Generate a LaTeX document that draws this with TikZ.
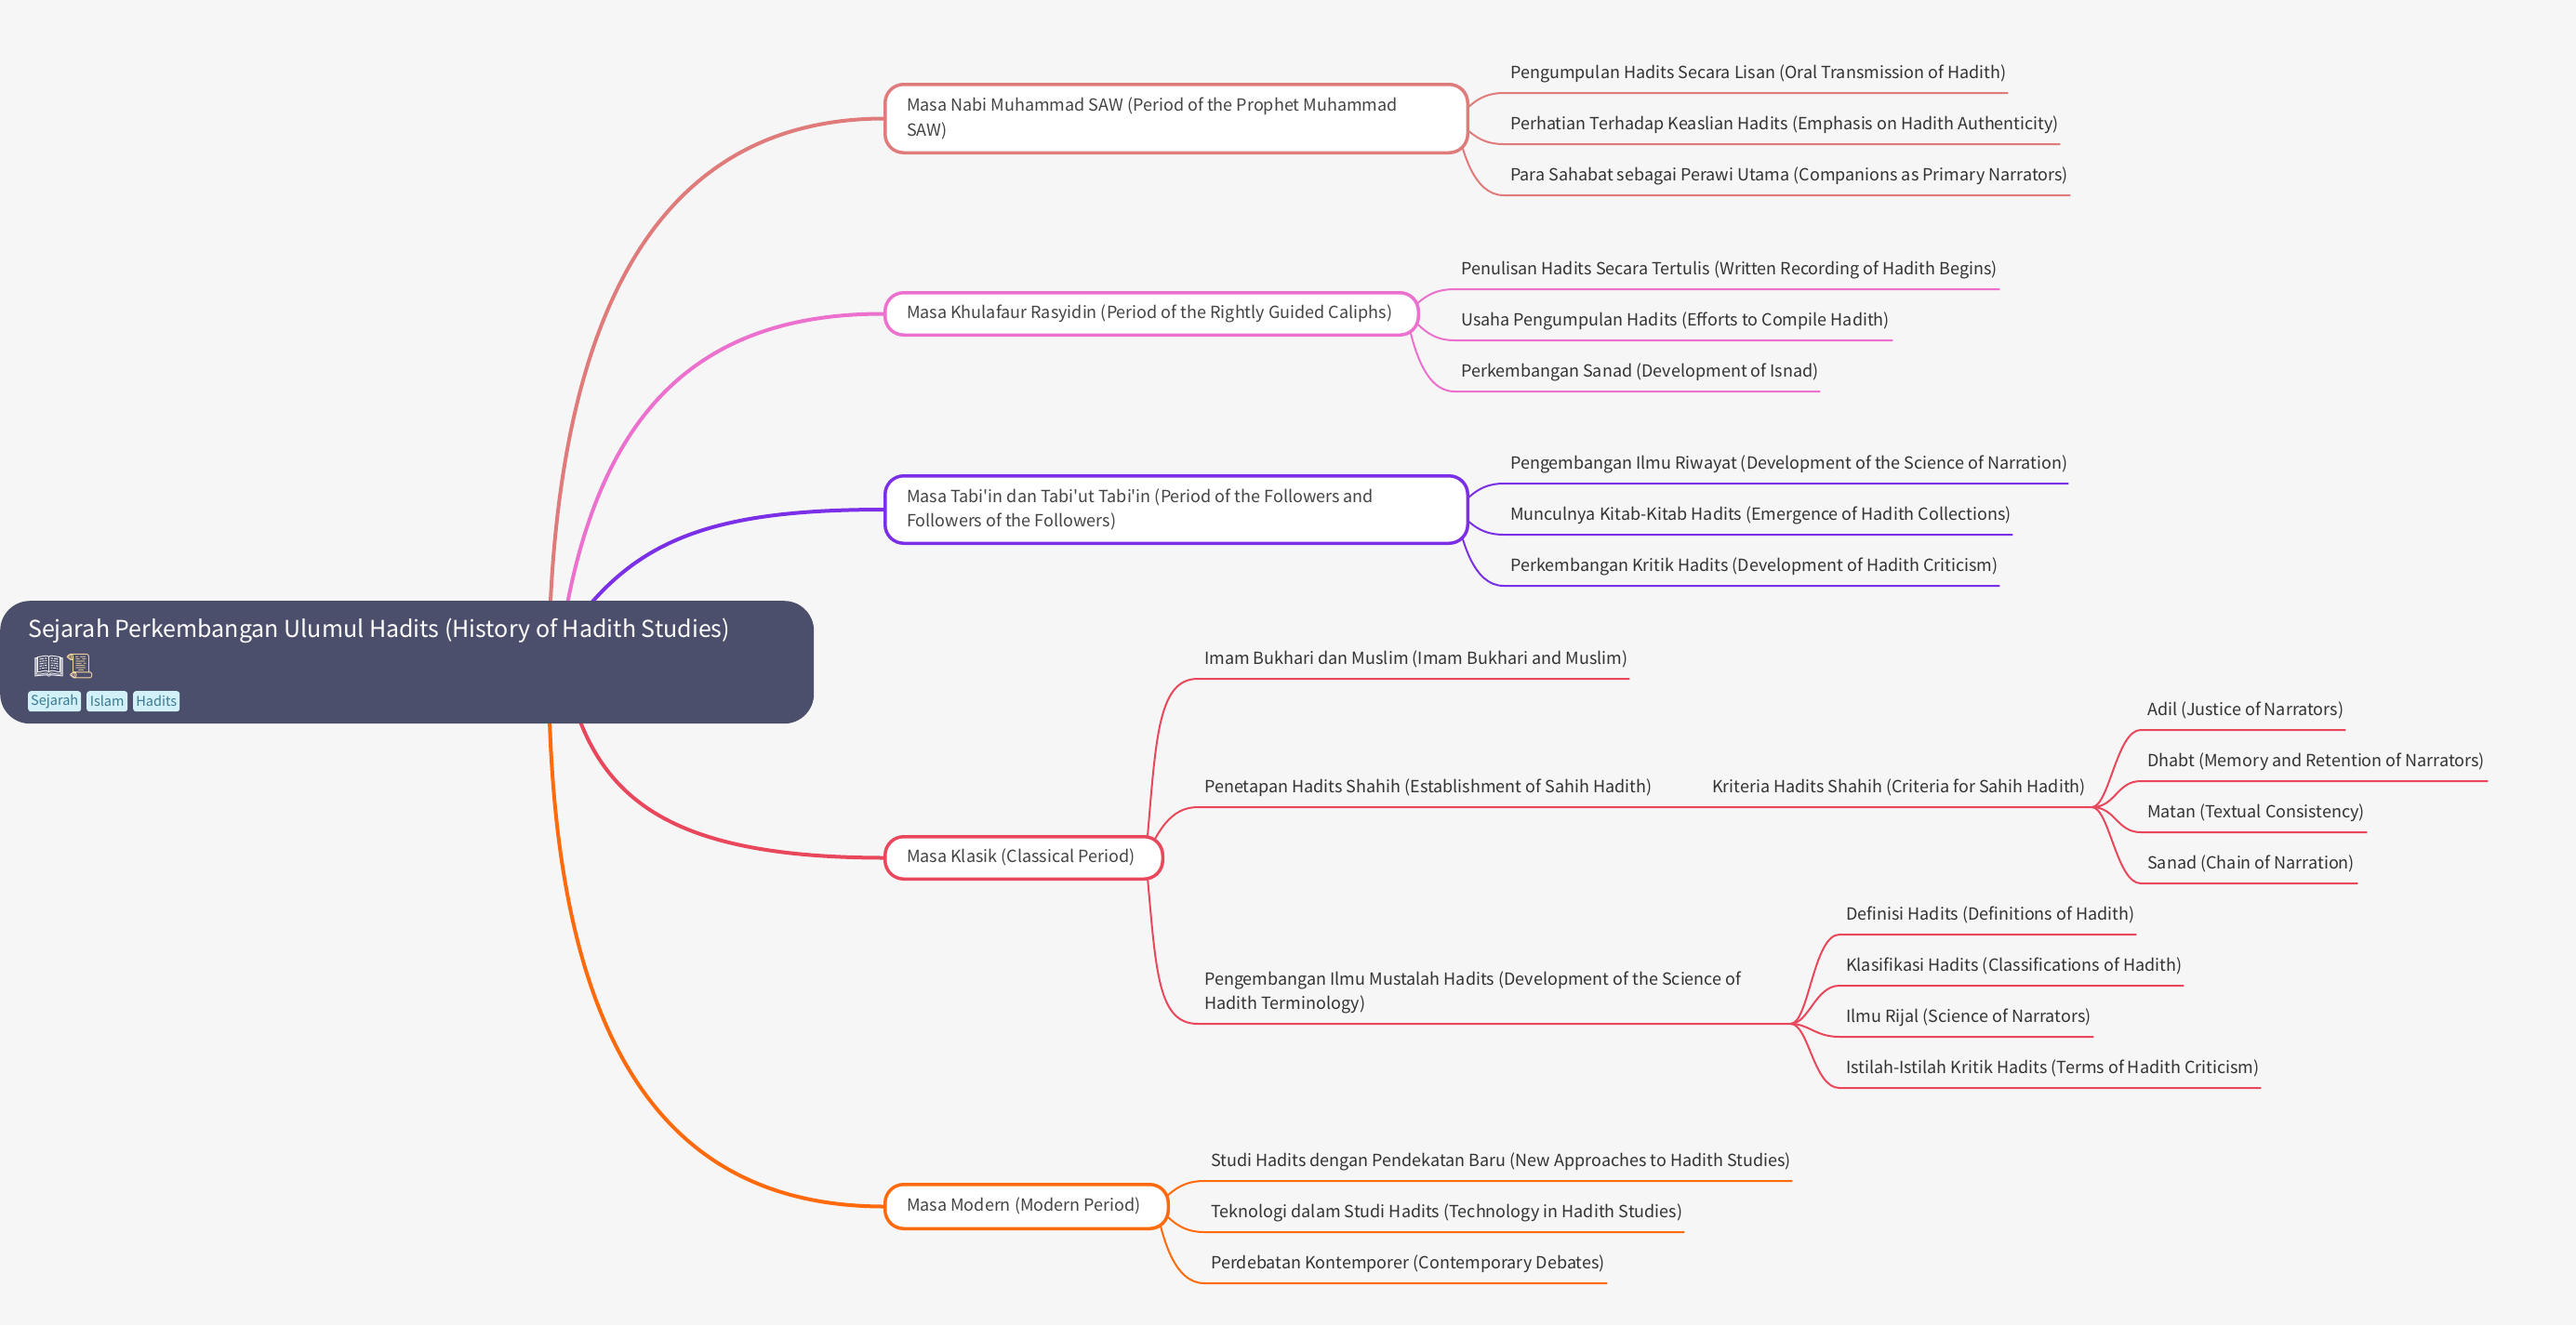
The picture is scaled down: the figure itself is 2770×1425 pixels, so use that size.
\documentclass[tikz,border=0pt]{standalone}
\usepackage{fontspec}
\newfontfamily\bodyfont{Noto Sans CJK SC}
\newfontfamily\emojifont{Noto Emoji}
\usetikzlibrary{backgrounds,positioning}
\definecolor{cBg}{HTML}{F6F6F6}
\definecolor{cRoot}{HTML}{4C4F6B}
\definecolor{cText}{HTML}{333333}
\definecolor{cBranch}{HTML}{444444}
\definecolor{cNabi}{HTML}{E07B7B}
\definecolor{cKhul}{HTML}{EC70CE}
\definecolor{cTabi}{HTML}{7B2FE6}
\definecolor{cKlas}{HTML}{E8475C}
\definecolor{cMode}{HTML}{FF6A0D}
\definecolor{cTag}{HTML}{D2F0F8}
\definecolor{cTagT}{HTML}{3A7A90}
\definecolor{cScroll}{HTML}{F5D6A0}
\newcommand{\lf}[2]{\makebox[#1pt][l]{\hspace{7pt}#2}}

\begin{document}
\bodyfont
\begin{tikzpicture}
[x=1pt,y=-1pt,
rootbox/.style = {anchor=north west, fill=cRoot, rounded corners=32pt, minimum width=875pt, minimum height=132pt, inner sep=0pt},
tagbox/.style = {anchor=north west, fill=cTag, text=cTagT, rounded corners=3pt, inner sep=0pt, minimum height=22pt, font=\fontsize{14.5}{18}\selectfont},
branch/.style = {anchor=north west, draw, fill=white, line width=3.5pt, rounded corners=20pt, text=cBranch, inner xsep=23.25pt, inner ysep=0pt, align=flush left, text height=14pt, text depth=3.5pt, font=\fontsize{18}{26.5}\selectfont},
leaf/.style = {anchor=south west, inner sep=0pt, text=cText, text height=16pt, text depth=15pt, font=\fontsize{18}{26}\selectfont},
rootline/.style = {line width=4pt},
leafline/.style = {line width=2pt},
]
\useasboundingbox (0,0) rectangle (2770,1425);

\node (root) at (0,646)[rootbox] {};
\node (title) at (30,685)[anchor=base west, inner sep=0pt, text=white, font=\fontsize{25}{34}\selectfont] {Sejarah Perkembangan Ulumul Hadits (History of Hadith Studies)};
\node (icons) at (36,717)[anchor=west, inner sep=0pt, font=\fontsize{26}{30}\selectfont\emojifont] {{\color{white}📖}{\color{cScroll}📜}};
\node (tag1) at (30,743)[tagbox, minimum width=57pt] {Sejarah};
\node (tag2) at (93,743)[tagbox, minimum width=44pt] {Islam};
\node (tag3) at (143,743)[tagbox, minimum width=50pt] {Hadits};

\node (nabi) at (950,89)[branch, draw=cNabi, text width=580pt, minimum height=73.5pt, text depth=29.5pt] {Masa Nabi Muhammad SAW (Period of the Prophet Muhammad\\SAW)};
\node (khul) at (950,313)[branch, draw=cKhul, text width=527pt, minimum height=45.5pt] {Masa Khulafaur Rasyidin (Period of the Rightly Guided Caliphs)};
\node (tabi) at (950,510)[branch, draw=cTabi, text width=580pt, minimum height=72.5pt, text depth=29.5pt] {Masa Tabi'in dan Tabi'ut Tabi'in (Period of the Followers and\\Followers of the Followers)};
\node (klas) at (950,898)[branch, draw=cKlas, text width=252pt, minimum height=45.5pt] {Masa Klasik (Classical Period)};
\node (mode) at (950,1272)[branch, draw=cMode, text width=258pt, minimum height=47.5pt] {Masa Modern (Modern Period)};

\node (a1) at (1617,100)[leaf] {\lf{542}{Pengumpulan Hadits Secara Lisan (Oral Transmission of Hadith)}};
\node (a2) at (1617,155)[leaf] {\lf{598}{Perhatian Terhadap Keaslian Hadits (Emphasis on Hadith Authenticity)}};
\node (a3) at (1617,210)[leaf] {\lf{609}{Para Sahabat sebagai Perawi Utama (Companions as Primary Narrators)}};

\node (b1) at (1564,311)[leaf] {\lf{586}{Penulisan Hadits Secara Tertulis (Written Recording of Hadith Begins)}};
\node (b2) at (1564,366)[leaf] {\lf{471}{Usaha Pengumpulan Hadits (Efforts to Compile Hadith)}};
\node (b3) at (1564,421)[leaf] {\lf{393}{Perkembangan Sanad (Development of Isnad)}};

\node (c1) at (1617,520)[leaf] {\lf{607}{Pengembangan Ilmu Riwayat (Development of the Science of Narration)}};
\node (c2) at (1617,575)[leaf] {\lf{547}{Munculnya Kitab-Kitab Hadits (Emergence of Hadith Collections)}};
\node (c3) at (1617,630)[leaf] {\lf{533}{Perkembangan Kritik Hadits (Development of Hadith Criticism)}};

\node (imam) at (1288,730)[leaf] {\lf{464}{Imam Bukhari dan Muslim (Imam Bukhari and Muslim)}};
\node (pene) at (1288,868)[leaf] {\lf{546}{Penetapan Hadits Shahih (Establishment of Sahih Hadith)}};
\node (krit) at (1834,868)[leaf] {\lf{415}{Kriteria Hadits Shahih (Criteria for Sahih Hadith)}};
\node (must) at (1288,1101)[leaf, text depth=41pt, text width=637pt, align=flush left] {\hspace*{7pt}Pengembangan Ilmu Mustalah Hadits (Development of the Science of\\\hspace*{7pt}Hadith Terminology)};

\node (adil) at (2302,785)[leaf] {\lf{220}{Adil (Justice of Narrators)}};
\node (dhab) at (2302,840)[leaf] {\lf{373}{Dhabt (Memory and Retention of Narrators)}};
\node (mata) at (2302,895)[leaf] {\lf{243}{Matan (Textual Consistency)}};
\node (sana) at (2302,950)[leaf] {\lf{233}{Sanad (Chain of Narration)}};

\node (defi) at (1978,1005)[leaf] {\lf{319}{Definisi Hadits (Definitions of Hadith)}};
\node (klsf) at (1978,1060)[leaf] {\lf{370}{Klasifikasi Hadits (Classifications of Hadith)}};
\node (rija) at (1978,1115)[leaf] {\lf{273}{Ilmu Rijal (Science of Narrators)}};
\node (isti) at (1978,1170)[leaf] {\lf{453}{Istilah-Istilah Kritik Hadits (Terms of Hadith Criticism)}};

\node (d1) at (1295,1270)[leaf] {\lf{632}{Studi Hadits dengan Pendekatan Baru (New Approaches to Hadith Studies)}};
\node (d2) at (1295,1325)[leaf] {\lf{516}{Teknologi dalam Studi Hadits (Technology in Hadith Studies)}};
\node (d3) at (1295,1380)[leaf] {\lf{433}{Perdebatan Kontemporer (Contemporary Debates)}};

\coordinate (hr) at (590,712);
\coordinate (hp) at (600,712);
\coordinate (hs) at (610,730);
\coordinate (ha) at (1565,128);
\coordinate (hb) at (1512,337);
\coordinate (hc) at (1565,548);
\coordinate (hk) at (1232,922);
\coordinate (hd) at (1243,1297);

\begin{pgfonlayer}{background}
\fill[cBg] (0,0) rectangle (2770,1425);

\draw[rootline,cNabi] (hr) .. controls (595,300) and (730,128) .. (nabi.west);
\draw[rootline,cKhul] (hp) .. controls (630,480) and (720,337) .. (khul.west);
\draw[rootline,cTabi] (hr) .. controls (665,590) and (740,548) .. (tabi.west);
\draw[rootline,cKlas] (hs) .. controls (640,860) and (720,922) .. (klas.west);
\draw[rootline,cMode] (hr) .. controls (590,1100) and (700,1297) .. (mode.west);

\draw[leafline,cNabi] (ha) .. controls (1580,115) and (1590,100) .. (a1.south west) -- (a1.south east);
\draw[leafline,cNabi] (ha) .. controls (1580,141) and (1590,155) .. (a2.south west) -- (a2.south east);
\draw[leafline,cNabi] (ha) .. controls (1572,161) and (1584,210) .. (a3.south west) -- (a3.south east);

\draw[leafline,cKhul] (hb) .. controls (1527,324) and (1537,311) .. (b1.south west) -- (b1.south east);
\draw[leafline,cKhul] (hb) .. controls (1527,350) and (1537,366) .. (b2.south west) -- (b2.south east);
\draw[leafline,cKhul] (hb) .. controls (1519,370) and (1531,421) .. (b3.south west) -- (b3.south east);

\draw[leafline,cTabi] (hc) .. controls (1580,535) and (1590,520) .. (c1.south west) -- (c1.south east);
\draw[leafline,cTabi] (hc) .. controls (1580,561) and (1590,575) .. (c2.south west) -- (c2.south east);
\draw[leafline,cTabi] (hc) .. controls (1572,581) and (1584,630) .. (c3.south west) -- (c3.south east);

\draw[leafline,cKlas] (hk) .. controls (1243,800) and (1243,730) .. (imam.south west) -- (imam.south east);
\draw[leafline,cKlas] (hk) .. controls (1245,895) and (1258,868) .. (pene.south west) -- (pene.south east) -- (krit.south east);
\draw[leafline,cKlas] (hk) .. controls (1243,1040) and (1243,1101) .. (must.south west) -- (must.south east);

\draw[leafline,cKlas] (krit.south east) .. controls (2268,868) and (2276,785) .. (adil.south west) -- (adil.south east);
\draw[leafline,cKlas] (krit.south east) .. controls (2275,868) and (2276,840) .. (dhab.south west) -- (dhab.south east);
\draw[leafline,cKlas] (krit.south east) .. controls (2275,868) and (2276,895) .. (mata.south west) -- (mata.south east);
\draw[leafline,cKlas] (krit.south east) .. controls (2268,868) and (2276,950) .. (sana.south west) -- (sana.south east);

\draw[leafline,cKlas] (must.south east) .. controls (1945,1101) and (1950,1005) .. (defi.south west) -- (defi.south east);
\draw[leafline,cKlas] (must.south east) .. controls (1945,1101) and (1952,1060) .. (klsf.south west) -- (klsf.south east);
\draw[leafline,cKlas] (must.south east) .. controls (1945,1101) and (1952,1115) .. (rija.south west) -- (rija.south east);
\draw[leafline,cKlas] (must.south east) .. controls (1945,1101) and (1950,1170) .. (isti.south west) -- (isti.south east);

\draw[leafline,cMode] (hd) .. controls (1258,1284) and (1268,1270) .. (d1.south west) -- (d1.south east);
\draw[leafline,cMode] (hd) .. controls (1258,1310) and (1268,1325) .. (d2.south west) -- (d2.south east);
\draw[leafline,cMode] (hd) .. controls (1250,1330) and (1262,1380) .. (d3.south west) -- (d3.south east);
\end{pgfonlayer}

\end{tikzpicture}
\end{document}
